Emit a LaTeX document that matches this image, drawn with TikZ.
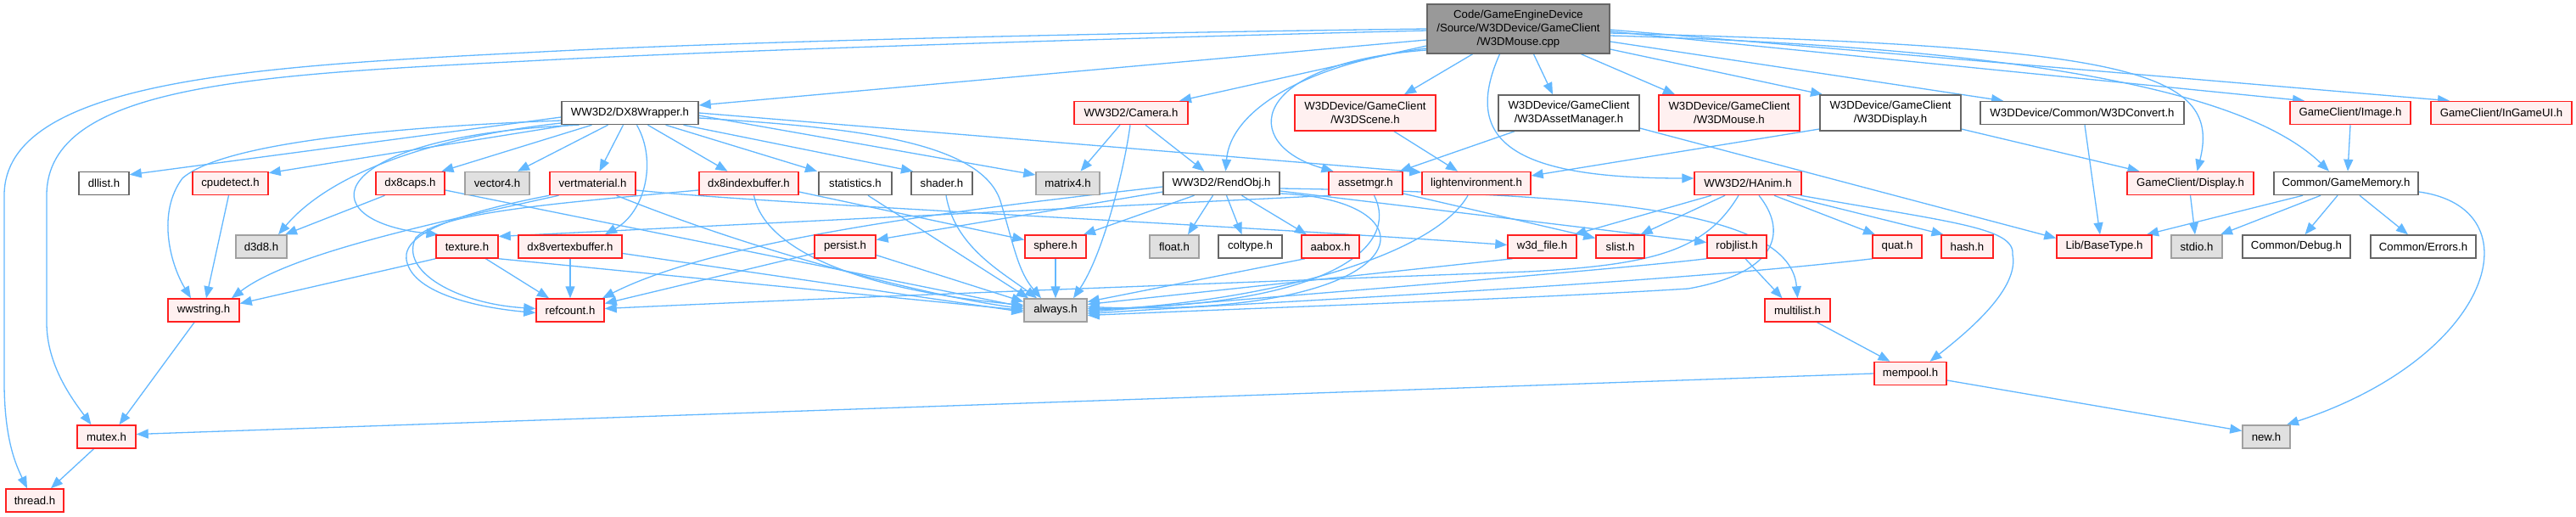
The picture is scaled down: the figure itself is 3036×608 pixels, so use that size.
\documentclass[tikz,border=0pt]{standalone}
\usepackage{fontspec}
\setmainfont{Liberation Sans}
\usetikzlibrary{arrows.meta}
\definecolor{edgec}{HTML}{63B8FF}
\definecolor{wborder}{HTML}{666666}
\definecolor{rfill}{HTML}{FFF0F0}
\definecolor{rborder}{HTML}{FF2020}
\definecolor{gfill}{HTML}{E0E0E0}
\definecolor{gborder}{HTML}{A0A0A0}
\definecolor{mfill}{HTML}{999999}
\newcommand{\nodefont}{\fontsize{13.2}{16}\selectfont}
\pgfdeclarelayer{edgelayer}
\pgfsetlayers{edgelayer,main}
\tikzset{
  box/.style={rectangle, line width=1.5pt, inner sep=0pt, minimum height=27pt, font=\nodefont, align=center, text=black},
  wbox/.style={box, draw=wborder, fill=white},
  rbox/.style={box, draw=rborder, fill=rfill},
  gbox/.style={box, draw=gborder, fill=gfill},
  mbox/.style={box, draw=wborder, fill=mfill},
  e/.style={draw=edgec, line width=1.3pt, -{Triangle[length=14pt,width=11pt]}},
}
\begin{document}
\begin{tikzpicture}[x=1pt,y=-1pt]
\useasboundingbox (0,0) rectangle (3036,608);
% rank 0/1
\node[mbox, minimum width=215pt, minimum height=58pt] (M) at (1789.5,34) {Code/GameEngineDevice\\/Source/W3DDevice/GameClient\\/W3DMouse.cpp};
\node[wbox, minimum width=161pt] (DX8W) at (742.5,133) {WW3D2/DX8Wrapper.h};
\node[rbox, minimum width=134pt] (Cam) at (1333,133) {WW3D2/Camera.h};
\node[rbox, minimum width=166pt, minimum height=42pt] (Scene) at (1609,133) {W3DDevice/GameClient\\/W3DScene.h};
\node[wbox, minimum width=166pt, minimum height=42pt] (AMW) at (1849,133) {W3DDevice/GameClient\\/W3DAssetManager.h};
\node[rbox, minimum width=166pt, minimum height=42pt] (Mouse) at (2038,133) {W3DDevice/GameClient\\/W3DMouse.h};
\node[wbox, minimum width=166pt, minimum height=42pt] (Disp3D) at (2228,133) {W3DDevice/GameClient\\/W3DDisplay.h};
\node[wbox, minimum width=240pt] (Conv) at (2454,133) {W3DDevice/Common/W3DConvert.h};
\node[rbox, minimum width=142pt] (Img) at (2770,133) {GameClient/Image.h};
\node[rbox, minimum width=166pt] (UI) at (2948,133) {GameClient/InGameUI.h};
% rank 2
\node[wbox, minimum width=59pt] (dllist) at (122.5,216) {dllist.h};
\node[rbox, minimum width=89pt] (cpudetect) at (271.5,216) {cpudetect.h};
\node[rbox, minimum width=81pt] (dx8caps) at (483.5,216) {dx8caps.h};
\node[gbox, minimum width=76pt] (vector4) at (586,216) {vector4.h};
\node[rbox, minimum width=101pt] (vertmaterial) at (698.5,216) {vertmaterial.h};
\node[rbox, minimum width=117pt] (dx8ib) at (882.5,216) {dx8indexbuffer.h};
\node[wbox, minimum width=86pt] (statistics) at (1008,216) {statistics.h};
\node[wbox, minimum width=72pt] (shader) at (1110,216) {shader.h};
\node[gbox, minimum width=75pt] (matrix4) at (1258.5,216) {matrix4.h};
\node[wbox, minimum width=137pt] (RendObj) at (1439.5,216) {WW3D2/RendObj.h};
\node[rbox, minimum width=87pt] (assetmgr) at (1609.5,216) {assetmgr.h};
\node[rbox, minimum width=128pt] (lightenv) at (1740,216) {lightenvironment.h};
\node[rbox, minimum width=126pt] (HAnim) at (2060,216) {WW3D2/HAnim.h};
\node[rbox, minimum width=149pt] (Display) at (2581.5,216) {GameClient/Display.h};
\node[wbox, minimum width=170pt] (GameMemory) at (2765,216) {Common/GameMemory.h};
% rank 3
\node[gbox, minimum width=60pt] (d3d8) at (308,290.5) {d3d8.h};
\node[rbox, minimum width=73pt] (texture) at (550.5,290.5) {texture.h};
\node[rbox, minimum width=122pt] (dx8vb) at (672,290.5) {dx8vertexbuffer.h};
\node[rbox, minimum width=72pt] (persist) at (996,290.5) {persist.h};
\node[rbox, minimum width=72pt] (sphere) at (1244,290.5) {sphere.h};
\node[gbox, minimum width=58pt] (float) at (1384,290.5) {float.h};
\node[wbox, minimum width=75pt] (coltype) at (1473.5,290.5) {coltype.h};
\node[rbox, minimum width=68pt] (aabox) at (1568,290.5) {aabox.h};
\node[rbox, minimum width=81pt] (w3dfile) at (1817.5,290.5) {w3d\_file.h};
\node[rbox, minimum width=57pt] (slist) at (1909.5,290.5) {slist.h};
\node[rbox, minimum width=70pt] (robjlist) at (2047,290.5) {robjlist.h};
\node[rbox, minimum width=58pt] (quat) at (2236,290.5) {quat.h};
\node[rbox, minimum width=61pt] (hash) at (2318.5,290.5) {hash.h};
\node[rbox, minimum width=112pt] (BaseType) at (2480,290.5) {Lib/BaseType.h};
\node[gbox, minimum width=60pt] (stdio) at (2589,290.5) {stdio.h};
\node[wbox, minimum width=127pt] (Debug) at (2706.5,290.5) {Common/Debug.h};
\node[wbox, minimum width=124pt] (Errors) at (2856,290.5) {Common/Errors.h};
% rank 4..7
\node[rbox, minimum width=84pt] (wwstring) at (240,365.5) {wwstring.h};
\node[rbox, minimum width=80pt] (refcount) at (672,365.5) {refcount.h};
\node[gbox, minimum width=74pt] (always) at (1244,365.5) {always.h};
\node[rbox, minimum width=77pt] (multilist) at (2118.5,365.5) {multilist.h};
\node[rbox, minimum width=85pt] (mempool) at (2251.5,440) {mempool.h};
\node[rbox, minimum width=69pt] (mutex) at (125.5,514.5) {mutex.h};
\node[gbox, minimum width=56pt] (newh) at (2671,514.5) {new.h};
\node[rbox, minimum width=68pt] (thread) at (41,589.5) {thread.h};

\begin{pgfonlayer}{edgelayer}
\fill[white] (0,0) rectangle (3036,608);
% main node
\draw[e] ([yshift=-13pt]M.west) -- ([yshift=9pt]DX8W.east);
\draw[e] ([yshift=-20pt]M.west) -- ([xshift=57pt]Cam.north);
\draw[e] ([xshift=-54pt]M.south) -- ([xshift=46pt]Scene.north);
\draw[e] ([yshift=-23pt]M.west) .. controls (1540,75) and (1450,130) .. ([xshift=5pt]RendObj.north);
\draw[e] ([yshift=-25pt]M.west) .. controls (1470,75) and (1460,170) .. ([xshift=-38pt]assetmgr.north);
\draw[e] ([xshift=18pt]M.south) -- ([xshift=-19pt]AMW.north);
\draw[e] ([xshift=74pt]M.south) -- ([xshift=-64pt]Mouse.north);
\draw[e] ([yshift=-24pt]M.east) -- ([xshift=-80pt]Disp3D.north);
\draw[e] ([yshift=-15pt]M.east) -- ([xshift=-93pt]Conv.north);
\draw[e] ([xshift=-22pt]M.south) .. controls (1720,170) and (1790,210) .. ([yshift=6pt]HAnim.west);
\draw[e] ([yshift=-5pt]M.east) .. controls (2500,55) and (2620,80) .. ([xshift=8pt]Display.north);
\draw[e] ([yshift=-8pt]M.east) .. controls (2350,55) and (2640,100) .. ([xshift=-20pt]GameMemory.north);
\draw[e] ([yshift=-3pt]M.east) -- ([xshift=-54pt]Img.north);
\draw[e] ([yshift=-1pt]M.east) -- ([xshift=-61pt]UI.north);
\draw[e] (M.west) .. controls (1200,40) and (800,52) .. (620,62) .. controls (300,78) and (5,95) .. (5,230) -- (5,450) .. controls (5,520) and (20,550) .. ([xshift=-9pt]thread.north);
\draw[e] ([yshift=-2pt]M.west) .. controls (1200,48) and (800,62) .. (620,72) .. controls (300,88) and (55,100) .. (55,230) -- (55,380) .. controls (55,430) and (85,470) .. ([xshift=-18pt]mutex.north);
% DX8Wrapper
\draw[e] ([yshift=-5pt]DX8W.west) -- ([yshift=-4pt]dllist.north east);
\draw[e] ([yshift=-9pt]DX8W.west) .. controls (450,150) and (260,170) .. (215,210) .. controls (185,250) and (200,310) .. ([xshift=-15pt]wwstring.north);
\draw[e] ([yshift=-12pt]DX8W.west) .. controls (480,165) and (380,215) .. ([xshift=20pt]d3d8.north);
\draw[e] ([xshift=-72pt]DX8W.south) -- ([yshift=-2pt]cpudetect.north east);
\draw[e] ([xshift=-60pt]DX8W.south) .. controls (380,160) and (360,260) .. ([xshift=-34pt]texture.north);
\draw[e] ([xshift=-45pt]DX8W.south) -- ([xshift=37pt]dx8caps.north);
\draw[e] ([xshift=-26pt]DX8W.south) -- ([xshift=24pt]vector4.north);
\draw[e] ([xshift=-8pt]DX8W.south) -- ([xshift=8pt]vertmaterial.north);
\draw[e] ([xshift=8pt]DX8W.south) .. controls (775,190) and (760,250) .. ([xshift=41pt]dx8vb.north);
\draw[e] ([xshift=21pt]DX8W.south) -- ([xshift=-25pt]dx8ib.north);
\draw[e] ([xshift=42pt]DX8W.south) -- ([xshift=-45pt]statistics.north);
\draw[e] ([xshift=63pt]DX8W.south) -- ([xshift=-34pt]shader.north);
\draw[e] ([yshift=-3pt]DX8W.east) -- ([yshift=10pt]matrix4.west);
\draw[e] (DX8W.east) -- ([yshift=13pt]lightenv.west);
\draw[e] ([yshift=-6pt]DX8W.east) .. controls (1000,150) and (1160,165) .. (1180,240) .. controls (1195,290) and (1200,320) .. ([xshift=-17pt]always.north);
% Camera
\draw[e] ([xshift=-13pt]Cam.south) -- ([xshift=15pt]matrix4.north);
\draw[e] ([xshift=17pt]Cam.south) -- ([xshift=-20pt]RendObj.north);
\draw[e] ([xshift=-1pt]Cam.south) .. controls (1325,200) and (1300,300) .. ([xshift=21pt]always.north);
% W3D device headers
\draw[e] ([xshift=34pt]Scene.south) -- ([xshift=-22pt]lightenv.north);
\draw[e] ([xshift=-64pt]AMW.south) -- ([xshift=40pt]assetmgr.north);
\draw[e] ([yshift=-18pt]AMW.east) -- ([yshift=10pt]BaseType.west);
\draw[e] ([yshift=-19pt]Disp3D.west) -- ([yshift=9pt]lightenv.east);
\draw[e] ([yshift=-19pt]Disp3D.east) -- ([xshift=-60pt]Display.north);
\draw[e] ([xshift=3pt]Conv.south) -- ([xshift=-5pt]BaseType.north);
\draw[e] (Img.south) -- ([xshift=2pt]GameMemory.north);
% GameMemory, Display
\draw[e] ([xshift=-51pt]GameMemory.south) -- ([xshift=50pt]BaseType.north);
\draw[e] ([xshift=-30pt]GameMemory.south) -- ([xshift=28pt]stdio.north);
\draw[e] ([xshift=-10pt]GameMemory.south) -- ([xshift=10pt]Debug.north);
\draw[e] ([xshift=16pt]GameMemory.south) -- ([xshift=-18pt]Errors.north);
\draw[e] ([yshift=-10pt]GameMemory.east) .. controls (2990,245) and (2940,420) .. ([xshift=24pt]newh.north);
\draw[e] (Display.south) -- ([xshift=-2pt]stdio.north);
% HAnim
\draw[e] ([xshift=-43pt]HAnim.south) -- ([xshift=38pt]w3dfile.north);
\draw[e] ([xshift=-27pt]HAnim.south) -- ([xshift=24pt]slist.north);
\draw[e] ([xshift=31pt]HAnim.south) -- ([xshift=-26pt]quat.north);
\draw[e] ([xshift=46pt]HAnim.south) -- ([xshift=-28pt]hash.north);
\draw[e] ([xshift=62pt]HAnim.south) .. controls (2300,262) and (2375,268) .. (2372,300) .. controls (2380,340) and (2320,390) .. ([xshift=23pt]mempool.north);
\draw[e] ([xshift=-11pt]HAnim.south) .. controls (2010,295) and (1950,312) .. (1800,320) .. controls (1400,335) and (1000,350) .. ([yshift=2pt]refcount.east);
\draw[e] ([xshift=13pt]HAnim.south) .. controls (2105,270) and (2100,320) .. (1990,340) .. controls (1800,352) and (1500,362) .. ([yshift=-6pt]always.east);
% RendObj
\draw[e] ([xshift=-32pt]RendObj.south) -- ([xshift=33pt]sphere.north);
\draw[e] ([xshift=-10pt]RendObj.south) -- ([xshift=16pt]float.north);
\draw[e] ([xshift=6pt]RendObj.south) -- ([xshift=-10pt]coltype.north);
\draw[e] ([xshift=24pt]RendObj.south) -- ([xshift=-28pt]aabox.north);
\draw[e] ([yshift=-10pt]RendObj.west) -- ([yshift=8pt]persist.east);
\draw[e] ([yshift=-4pt]RendObj.west) .. controls (1150,245) and (850,280) .. ([xshift=38pt]refcount.north);
\draw[e] ([yshift=-6pt]RendObj.east) .. controls (1900,228) and (2110,250) .. (multilist.north);
\draw[e] ([yshift=-9pt]RendObj.east) -- ([yshift=5pt]robjlist.west);
\draw[e] ([yshift=-12pt]RendObj.east) .. controls (1700,235) and (1680,375) .. ([yshift=4pt]always.east);
% assetmgr, lightenvironment
\draw[e] ([xshift=3pt]assetmgr.south west) -- ([yshift=12pt]texture.east);
\draw[e] ([yshift=-12pt]assetmgr.east) -- ([yshift=10pt]slist.west);
\draw[e] ([xshift=10pt]assetmgr.south) .. controls (1650,290) and (1570,360) .. ([yshift=2pt]always.east);
\draw[e] ([xshift=-10pt]lightenv.south) .. controls (1690,300) and (1500,355) .. (always.east);
% others into always / multilist / mempool
\draw[e] ([xshift=-30pt]aabox.south) -- ([yshift=10pt]always.east);
\draw[e] ([xshift=-35pt]w3dfile.south) -- ([yshift=7pt]always.east);
\draw[e] (robjlist.south west) .. controls (1900,318) and (1500,350) .. ([yshift=-2pt]always.east);
\draw[e] ([xshift=-29pt]quat.south) .. controls (1950,335) and (1500,355) .. ([yshift=-4pt]always.east);
\draw[e] ([xshift=10pt]robjlist.south) -- ([xshift=-18pt]multilist.north);
\draw[e] ([xshift=23pt]multilist.south) -- ([xshift=-24pt]mempool.north);
\draw[e] (mempool.west) -- ([yshift=3pt]mutex.east);
\draw[e] ([yshift=-8pt]mempool.east) -- ([yshift=7pt]newh.west);
% left cluster
\draw[e] ([xshift=-2pt]cpudetect.south) -- ([xshift=3pt]wwstring.north);
\draw[e] ([xshift=-30pt]dx8caps.south) -- ([xshift=28pt]d3d8.north);
\draw[e] ([yshift=-8pt]dx8caps.east) -- ([yshift=4pt]always.west);
\draw[e] ([xshift=-40pt]vertmaterial.south) .. controls (500,265) and (340,300) .. ([xshift=33pt]wwstring.north);
\draw[e] (vertmaterial.south west) .. controls (520,255) and (470,280) .. (480,310) .. controls (490,345) and (560,362) .. ([yshift=-3pt]refcount.west);
\draw[e] ([yshift=-8pt]vertmaterial.east) .. controls (900,240) and (1400,262) .. ([yshift=2pt]w3dfile.west);
\draw[e] ([xshift=28pt]vertmaterial.south) .. controls (900,300) and (1100,350) .. ([yshift=2pt]always.west);
\draw[e] ([yshift=-8pt]dx8ib.west) .. controls (650,240) and (520,250) .. (490,280) .. controls (470,320) and (540,358) .. ([yshift=2pt]refcount.west);
\draw[e] ([yshift=-10pt]dx8ib.east) -- ([yshift=8pt]sphere.west);
\draw[e] ([xshift=6pt]dx8ib.south) .. controls (900,290) and (1000,340) .. ([yshift=6pt]always.west);
\draw[e] ([xshift=15pt]statistics.south) -- ([xshift=-32pt]always.north);
\draw[e] ([xshift=5pt]shader.south) .. controls (1125,290) and (1180,320) .. ([xshift=-22pt]always.north);
\draw[e] (texture.south west) -- ([yshift=8pt]wwstring.east);
\draw[e] ([xshift=22pt]texture.south) -- ([xshift=-25pt]refcount.north);
\draw[e] (texture.south east) -- (always.west);
\draw[e] (dx8vb.south) -- (refcount.north);
\draw[e] ([yshift=-8pt]dx8vb.east) -- ([yshift=-2pt]always.west);
\draw[e] ([yshift=-8pt]persist.west) -- ([yshift=8pt]refcount.east);
\draw[e] ([yshift=-10pt]persist.east) -- ([yshift=10pt]always.west);
\draw[e] (sphere.south) -- (always.north);
\draw[e] ([xshift=-11pt]wwstring.south) -- ([xshift=15pt]mutex.north);
\draw[e] ([xshift=-15pt]mutex.south) -- ([xshift=19pt]thread.north);
\end{pgfonlayer}
\end{tikzpicture}
\end{document}
